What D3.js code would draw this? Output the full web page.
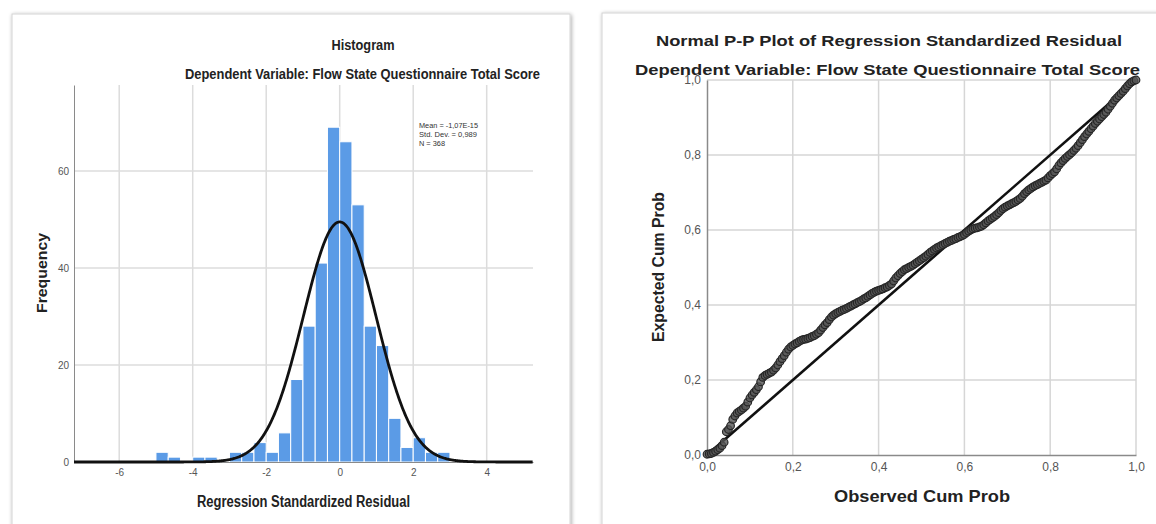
<!DOCTYPE html>
<html><head><meta charset="utf-8">
<script src="https://cdn.jsdelivr.net/npm/d3@7"></script>
<style>
body{margin:0;background:#fff;}
svg{display:block;font-family:"Liberation Sans",Arial,sans-serif;}
</style>
</head><body>
<svg id="c" width="1156" height="524"></svg>
<script>
// ---------- Histogram data ----------
const binLow = [-5,-4.6667,-4.3333,-4,-3.6667,-3.3333,-3,-2.6667,-2.3333,-2,-1.6667,-1.3333,-1,-0.6667,-0.3333,0,0.3333,0.6667,1,1.3333,1.6667,2,2.3333,2.6667];
const freq   = [2,1,0,1,1,0,2,2,4,2,6,17,28,41,69,66,53,28,24,9,3,5,2,2];
const binWidth = 1/3;
const histXTicks = [-6,-4,-2,0,2,4];
const histYTicks = [0,20,40,60];
const statsLines = ["Mean = -1,07E-15","Std. Dev. = 0,989","N = 368"];
const statMean = -1.07e-15, statSD = 0.989, statN = 368;

// ---------- P-P plot data (observed cum prob, expected cum prob) ----------
const ppObserved = [0.00,0.01,0.02,0.03,0.04,0.045,0.05,0.06,0.07,0.08,0.09,0.10,0.11,0.12,0.13,0.14,0.15,0.16,0.17,0.18,0.19,0.20,0.21,0.22,0.23,0.24,0.25,0.26,0.27,0.28,0.29,0.30,0.31,0.32,0.33,0.34,0.35,0.36,0.37,0.38,0.39,0.40,0.41,0.42,0.43,0.44,0.45,0.46,0.47,0.48,0.49,0.50,0.51,0.52,0.53,0.54,0.55,0.56,0.57,0.58,0.59,0.60,0.61,0.62,0.63,0.64,0.65,0.66,0.67,0.68,0.69,0.70,0.71,0.72,0.73,0.74,0.75,0.76,0.77,0.78,0.79,0.80,0.81,0.82,0.83,0.84,0.85,0.86,0.87,0.88,0.89,0.90,0.91,0.92,0.93,0.94,0.95,0.96,0.97,0.98,0.99,1.00];
const ppExpected = [0.002,0.004,0.010,0.018,0.034,0.062,0.068,0.095,0.112,0.120,0.130,0.152,0.167,0.182,0.207,0.215,0.221,0.232,0.249,0.265,0.282,0.292,0.299,0.306,0.309,0.313,0.318,0.326,0.340,0.353,0.368,0.377,0.383,0.388,0.394,0.400,0.406,0.412,0.419,0.427,0.434,0.439,0.443,0.448,0.456,0.472,0.484,0.494,0.500,0.506,0.514,0.522,0.530,0.540,0.548,0.555,0.561,0.567,0.572,0.577,0.582,0.588,0.597,0.603,0.606,0.610,0.619,0.628,0.636,0.646,0.657,0.664,0.670,0.676,0.684,0.697,0.707,0.715,0.721,0.727,0.733,0.745,0.755,0.772,0.785,0.796,0.806,0.818,0.833,0.849,0.863,0.877,0.890,0.902,0.914,0.930,0.946,0.958,0.970,0.984,0.995,1.000];
const ppObservedMid = [0.005,0.015,0.025,0.035,0.055,0.065,0.075,0.085,0.095,0.105,0.115,0.125,0.135,0.145,0.155,0.165,0.175,0.185,0.195,0.205,0.215,0.225,0.235,0.245,0.255,0.265,0.275,0.285,0.295,0.305,0.315,0.325,0.335,0.345,0.355,0.365,0.375,0.385,0.395,0.405,0.415,0.425,0.435,0.445,0.455,0.465,0.475,0.485,0.495,0.505,0.515,0.525,0.535,0.545,0.555,0.565,0.575,0.585,0.595,0.605,0.615,0.625,0.635,0.645,0.655,0.665,0.675,0.685,0.695,0.705,0.715,0.725,0.735,0.745,0.755,0.765,0.775,0.785,0.795,0.805,0.815,0.825,0.835,0.845,0.855,0.865,0.875,0.885,0.895,0.905,0.915,0.925,0.935,0.945,0.955,0.965,0.975,0.985,0.995];
const ppExpectedMid = [0.003,0.007,0.014,0.025,0.078,0.104,0.116,0.125,0.141,0.160,0.174,0.195,0.212,0.218,0.226,0.240,0.257,0.274,0.288,0.296,0.303,0.308,0.311,0.316,0.322,0.333,0.347,0.361,0.373,0.380,0.386,0.391,0.397,0.403,0.409,0.416,0.423,0.431,0.437,0.441,0.446,0.452,0.464,0.478,0.489,0.497,0.503,0.510,0.518,0.526,0.535,0.544,0.552,0.558,0.564,0.570,0.575,0.580,0.585,0.593,0.600,0.605,0.608,0.614,0.624,0.632,0.641,0.652,0.661,0.667,0.673,0.680,0.690,0.702,0.711,0.718,0.724,0.730,0.739,0.750,0.763,0.779,0.791,0.801,0.812,0.825,0.841,0.856,0.870,0.884,0.896,0.908,0.922,0.938,0.952,0.964,0.977,0.990,0.998];
const ppTicks = [0,0.2,0.4,0.6,0.8,1.0];

const svg = d3.select("#c");
const defs = svg.append("defs");
const f = defs.append("filter").attr("id","sh").attr("x","-5%").attr("y","-5%").attr("width","110%").attr("height","110%");
f.append("feGaussianBlur").attr("in","SourceAlpha").attr("stdDeviation",2).attr("result","b");
f.append("feOffset").attr("in","b").attr("dx",1).attr("dy",1).attr("result","o");
f.append("feComponentTransfer").attr("in","o").attr("result","o2").append("feFuncA").attr("type","linear").attr("slope",0.35);
const fm = f.append("feMerge"); fm.append("feMergeNode").attr("in","o2"); fm.append("feMergeNode").attr("in","SourceGraphic");

// panels
svg.append("rect").attr("x",12).attr("y",14).attr("width",558).attr("height",540)
  .attr("fill","#fff").attr("stroke","#d4d4d4").attr("filter","url(#sh)");
svg.append("rect").attr("x",602).attr("y",13).attr("width",580).attr("height",540)
  .attr("fill","#fff").attr("stroke","#d4d4d4").attr("filter","url(#sh)");

// ================= Histogram =================
const xH = d3.scaleLinear().domain([-7.23,5.26]).range([74,533]);
const yH = d3.scaleLinear().domain([0,77.7]).range([462,85]);
const gH = svg.append("g");

gH.selectAll(".vg").data(histXTicks).join("line")
  .attr("x1",d=>xH(d)).attr("x2",d=>xH(d)).attr("y1",yH(77.7)).attr("y2",yH(0))
  .attr("stroke","#dcdcdc").attr("stroke-width",1.5);
gH.selectAll(".hg").data(histYTicks.slice(1)).join("line")
  .attr("x1",xH.range()[0]).attr("x2",xH.range()[1]).attr("y1",d=>yH(d)).attr("y2",d=>yH(d))
  .attr("stroke","#dcdcdc").attr("stroke-width",1.5);

gH.selectAll(".bar").data(binLow.map((b,i)=>({b,f:freq[i]})).filter(d=>d.f>0)).join("rect")
  .attr("x",d=>xH(d.b)).attr("width",d=>xH(d.b+binWidth)-xH(d.b))
  .attr("y",d=>yH(d.f)).attr("height",d=>yH(0)-yH(d.f))
  .attr("fill","#5b9be6").attr("stroke","#ffffff").attr("stroke-width",1);

const axXH = d3.axisBottom(xH).tickValues(histXTicks).tickSize(0).tickPadding(7).tickFormat(d=>String(d));
const axYH = d3.axisLeft(yH).tickValues(histYTicks).tickSize(0).tickPadding(5).tickFormat(d=>String(d));
const gxh = gH.append("g").attr("transform",`translate(0,${yH(0)})`).call(axXH);
const gyh = gH.append("g").attr("transform",`translate(${xH.range()[0]},0)`).call(axYH);
[gxh,gyh].forEach(g=>{
  g.select(".domain").attr("stroke","#8a8a8a").attr("stroke-width",1);
  g.selectAll("text").attr("fill","#555").attr("font-size","10px").attr("font-family",'"Liberation Sans Narrow","Liberation Sans",sans-serif');
});

const curveX = d3.range(xH.domain()[0], xH.domain()[1]+0.001, 0.02);
const pdf = x => statN*binWidth*Math.exp(-0.5*((x-statMean)/statSD)**2)/(statSD*Math.sqrt(2*Math.PI));
gH.append("path").datum(curveX)
  .attr("d",d3.line().x(d=>xH(d)).y(d=>yH(pdf(d))))
  .attr("fill","none").attr("stroke","#111").attr("stroke-width",2.8);

gH.selectAll(".st").data(statsLines).join("text")
  .attr("x",419).attr("y",(d,i)=>127.5+i*9.3).text(d=>d)
  .attr("font-size","7.5px").attr("fill","#333")
  .attr("textLength",(d,i)=>[59,58,26][i]).attr("lengthAdjust","spacingAndGlyphs");

gH.append("text").attr("x",363).attr("y",50).attr("text-anchor","middle").text("Histogram")
  .attr("font-weight","bold").attr("font-size","14px").attr("fill","#222")
  .attr("textLength",63).attr("lengthAdjust","spacingAndGlyphs");
gH.append("text").attr("x",362.5).attr("y",79).attr("text-anchor","middle").text("Dependent Variable: Flow State Questionnaire Total Score")
  .attr("font-weight","bold").attr("font-size","14px").attr("fill","#222")
  .attr("textLength",355).attr("lengthAdjust","spacingAndGlyphs");
gH.append("text").attr("x",303.5).attr("y",507).attr("text-anchor","middle").text("Regression Standardized Residual")
  .attr("font-weight","bold").attr("font-size","16px").attr("fill","#222")
  .attr("textLength",213).attr("lengthAdjust","spacingAndGlyphs");
gH.append("text").attr("transform","translate(42,273) rotate(-90)").attr("dy","0.35em").attr("text-anchor","middle").text("Frequency")
  .attr("font-weight","bold").attr("font-size","14.5px").attr("fill","#222")
  .attr("textLength",80).attr("lengthAdjust","spacingAndGlyphs");

// ================= P-P plot =================
const xP = d3.scaleLinear().domain([0,1]).range([707,1136]);
const yP = d3.scaleLinear().domain([0,1]).range([455,80]);
const gP = svg.append("g");

gP.selectAll(".vg").data(ppTicks.slice(1)).join("line")
  .attr("x1",d=>xP(d)).attr("x2",d=>xP(d)).attr("y1",yP(1)).attr("y2",yP(0))
  .attr("stroke","#d6d6d6").attr("stroke-width",1.5);
gP.selectAll(".hg").data(ppTicks.slice(1)).join("line")
  .attr("x1",xP(0)).attr("x2",xP(1)).attr("y1",d=>yP(d)).attr("y2",d=>yP(d))
  .attr("stroke","#d6d6d6").attr("stroke-width",1.5);

const fmt = d=>d.toFixed(1).replace(".",",");
const gxp = gP.append("g").attr("transform",`translate(0,${yP(0)})`).call(d3.axisBottom(xP).tickValues(ppTicks).tickSize(0).tickPadding(7).tickFormat(fmt));
const gyp = gP.append("g").attr("transform",`translate(${xP(0)},0)`).call(d3.axisLeft(yP).tickValues(ppTicks).tickSize(0).tickPadding(6).tickFormat(fmt));
[gxp,gyp].forEach(g=>{
  g.select(".domain").attr("stroke","#8a8a8a").attr("stroke-width",1.5);
  g.selectAll("text").attr("fill","#555").attr("font-size","12px");
});

gP.append("line").attr("x1",xP(0)).attr("y1",yP(0)).attr("x2",xP(1)).attr("y2",yP(1))
  .attr("stroke","#111").attr("stroke-width",2.6);

const ppPoints = ppObserved.map((o,i)=>({o,e:ppExpected[i]}))
  .concat(ppObservedMid.map((o,i)=>({o,e:ppExpectedMid[i]})))
  .sort((a,b)=>a.o-b.o);
gP.selectAll(".pt").data(ppPoints).join("circle")
  .attr("cx",d=>xP(d.o)).attr("cy",d=>yP(d.e)).attr("r",3.8)
  .attr("fill","#555").attr("fill-opacity",0.8).attr("stroke","#262626").attr("stroke-width",1.2);

gP.append("text").attr("x",889).attr("y",45.5).attr("text-anchor","middle").text("Normal P-P Plot of Regression Standardized Residual")
  .attr("font-weight","bold").attr("font-size","15px").attr("fill","#222")
  .attr("textLength",466).attr("lengthAdjust","spacingAndGlyphs");
gP.append("text").attr("x",887.5).attr("y",74.5).attr("text-anchor","middle").text("Dependent Variable: Flow State Questionnaire Total Score")
  .attr("font-weight","bold").attr("font-size","15px").attr("fill","#222")
  .attr("textLength",505).attr("lengthAdjust","spacingAndGlyphs");
gP.append("text").attr("x",922).attr("y",501.5).attr("text-anchor","middle").text("Observed Cum Prob")
  .attr("font-weight","bold").attr("font-size","17px").attr("fill","#222")
  .attr("textLength",176).attr("lengthAdjust","spacingAndGlyphs");
gP.append("text").attr("transform","translate(658,267) rotate(-90)").attr("dy","0.35em").attr("text-anchor","middle").text("Expected Cum Prob")
  .attr("font-weight","bold").attr("font-size","17px").attr("fill","#222")
  .attr("textLength",150).attr("lengthAdjust","spacingAndGlyphs");
</script>
</body></html>
